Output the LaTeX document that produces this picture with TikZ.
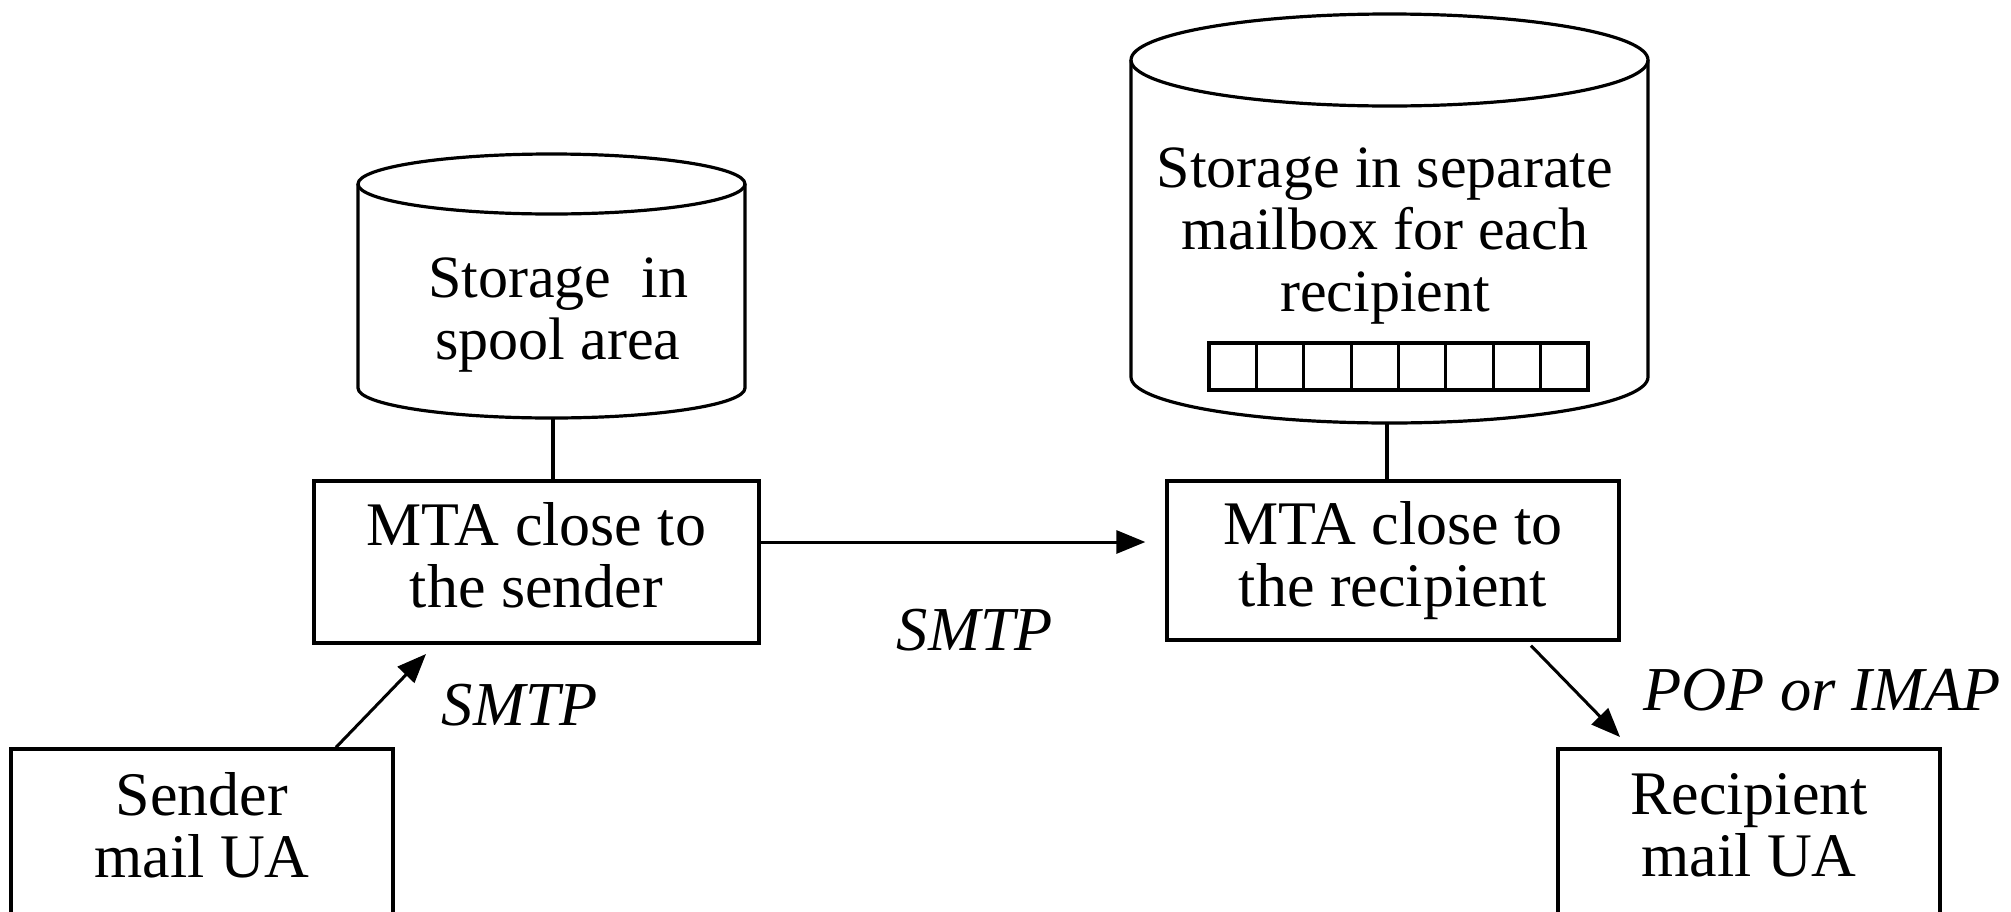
\documentclass[tikz,border=0pt]{standalone}
\usepackage{fontspec}
\setmainfont{Liberation Serif}
\usetikzlibrary{arrows.meta}
\begin{document}
\begin{tikzpicture}[x=1pt,y=1pt, line width=3.2pt,
  txt/.style={font=\fontsize{60}{62}\selectfont, align=center, inner sep=0pt},
  boxtxt/.style={font=\fontsize{62}{62}\selectfont, align=center, inner sep=0pt},
  lbl/.style={font=\fontsize{62.5}{62}\selectfont\itshape, inner sep=0pt, anchor=base},
  boxnode/.style={draw, boxtxt, line width=3.3pt},
  arr/.style={-{Triangle[length=29pt,width=23pt]}, line width=3pt}]
\useasboundingbox (0,0) rectangle (2011,-911);
\begin{scope}
\clip (0,0) rectangle (2011,-911);
% spool cylinder
\draw (551.5,-184) ellipse [x radius=193.5, y radius=30];
\draw (358,-184) -- (358,-388) arc [start angle=180, end angle=360, x radius=193.5, y radius=30] -- (745,-184);
\coordinate (spoolbot) at (553,-418);
\node[txt] (spooltxt) at (558,-315) {Storage\ \ in\\spool area};
% mailbox cylinder
\draw (1389.5,-60) ellipse [x radius=258.5, y radius=46];
\draw (1131,-60) -- (1131,-377) arc [start angle=180, end angle=360, x radius=258.5, y radius=46] -- (1648,-60);
\coordinate (mboxbot) at (1387,-423);
\node[txt] (mboxtxt) at (1385,-236) {Storage in separate\\mailbox for each\\recipient};
\draw (1209,-343) rectangle (1588,-390);
\foreach \i in {1,...,7} \draw ({1209+\i*47.375},-343) -- ++(0,-47);
% boxes
\node[boxnode, minimum width=445pt, minimum height=162pt] (mtas) at (536.5,-562) {MTA close to\\the sender\vphantom{p}};
\node[boxnode, minimum width=452pt, minimum height=159pt] (mtar) at (1393,-560.5) {MTA close to\\the recipient};
\node[boxnode, minimum width=382pt, minimum height=166pt] (sua) at (202,-832) {Sender\\mail UA\vphantom{p}};
\node[boxnode, minimum width=382pt, minimum height=166pt] (rua) at (1749,-832) {Recipient\\mail UA\vphantom{p}};
% connectors
\draw (spoolbot) -- (spoolbot |- mtas.north);
\draw (mboxbot) -- (mboxbot |- mtar.north);
\draw[arr] ([yshift=20pt]mtas.east) -- ([yshift=18.5pt, xshift=-20pt]mtar.west);
\coordinate (a1e) at (426,-654);
\draw[arr] ([xshift=134pt]sua.north) -- (a1e);
\coordinate (a2e) at (1620,-737);
\draw[arr] ([xshift=138pt, yshift=-4pt]mtar.south) -- (a2e);
% labels
\node[lbl] (l1) at (975,-650) {SMTP};
\node[lbl] (l2) at (520,-725) {SMTP};
\node[lbl] (l3) at (1822,-710) {POP or IMAP};
\end{scope}
\end{tikzpicture}
\end{document}
